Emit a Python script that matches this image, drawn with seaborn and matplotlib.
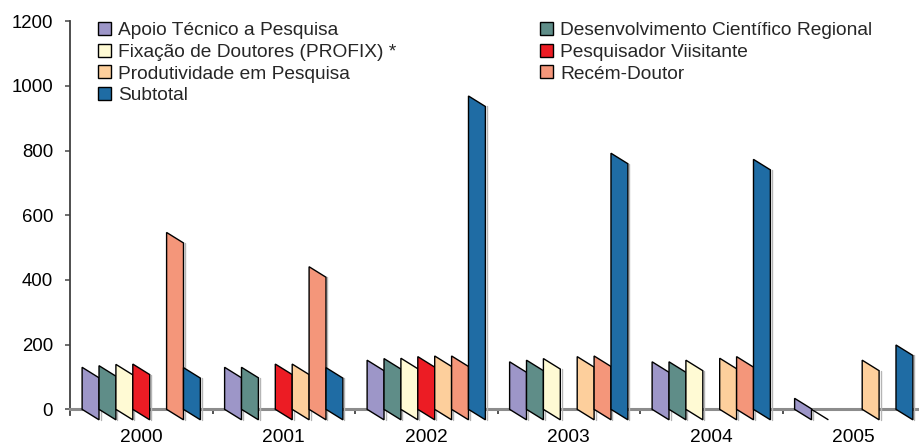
import numpy as np
import pandas as pd
import matplotlib
matplotlib.use('Agg')
import matplotlib.pyplot as plt
import seaborn as sns
from matplotlib.patches import Polygon, Patch

nan = np.nan

# dados
anos = ['2000', '2001', '2002', '2003', '2004', '2005']
programas = ['Apoio Técnico a Pesquisa', 'Desenvolvimento Científico Regional',
             'Fixação de Doutores (PROFIX) *', 'Pesquisador Viisitante',
             'Produtividade em Pesquisa', 'Recém-Doutor', 'Subtotal']
cores = ['#9d96c8', '#5f8d88', '#fffad4', '#ec1c24', '#fdcf9c', '#f4967a', '#1f6ca4']

apoio = [130, 130, 152, 147, 147, 34]
desenvolvimento = [135, 130, 157, 152, 147, 0]
fixacao = [139, nan, 158, 157, 152, nan]
pesquisador = [140, 140, 163, nan, nan, nan]
produtividade = [nan, 140, 165, 163, 158, 152]
recem_doutor = [547, 441, 165, 165, 163, nan]
subtotal = [129, 129, 969, 792, 773, 199]

valores = [apoio, desenvolvimento, fixacao, pesquisador, produtividade, recem_doutor, subtotal]
linhas = []
for prog, vals in zip(programas, valores):
    for ano, v in zip(anos, vals):
        linhas.append({'ano': ano, 'programa': prog, 'valor': v})
df = pd.DataFrame(linhas).dropna()

sns.set_theme(style='white')
plt.rcParams['font.family'] = ['Liberation Sans', 'DejaVu Sans']

W, H = 919, 445
fig = plt.figure(figsize=(W / 100, H / 100), dpi=100)
ax = fig.add_axes([70 / W, 19.5 / H, 855 / W, (423.7 - 19.5) / H])

sns.barplot(data=df, x='ano', y='valor', hue='programa', order=anos,
            hue_order=programas, palette=cores, saturation=1, width=0.83,
            errorbar=None, edgecolor='black', linewidth=1, legend=False, ax=ax)

ax.set_xlim(-0.5, 5.5)
ax.set_ylim(-50, 1200)

# efeito 3D: lado direito da barra desce ~10 px
px = ax.transData.transform([(0, 0), (1, 1)])
unid_y = 1 / (px[1, 1] - px[0, 1])
unid_x = 1 / (px[1, 0] - px[0, 0])
queda = 10.5 * unid_y
for barra in list(ax.patches):
    x0, w, h = barra.get_x(), barra.get_width(), barra.get_height()
    fc = barra.get_facecolor()
    barra.remove()
    if np.isnan(h):
        continue
    x1 = x0 + w
    ax.plot([x1 + 1.5 * unid_x] * 2, [h - queda, -queda], color='#b5b5b5', lw=1, zorder=2.9)
    ax.add_patch(Polygon([(x0, 0), (x0, h), (x1, h - queda), (x1, -queda)], closed=True,
                         facecolor=fc, edgecolor='black', linewidth=1, zorder=3))

ax.set_xlim(-0.5, 5.5)
ax.set_ylim(-50, 1200)

for s in ['top', 'right']:
    ax.spines[s].set_visible(False)
ax.spines['left'].set_bounds(-17, 1200)
ax.spines['left'].set_color('#404040')
ax.spines['left'].set_linewidth(1.3)
ax.spines['bottom'].set_position(('data', 0))
ax.spines['bottom'].set_color('#8c8c8c')
ax.spines['bottom'].set_linewidth(2.2)

ax.set_yticks(range(0, 1201, 200))
ax.tick_params(axis='y', length=3.6, width=1.2, color='#555555', labelsize=13.4,
               pad=8.6, left=True, labelcolor='black')
ax.set_xticks(range(len(anos)))
ax.set_xticklabels(anos)
ax.set_xticks([0.5, 1.5, 2.5, 3.5, 4.5], minor=True)
ax.tick_params(axis='x', which='major', length=0, pad=14.5, labelsize=13.8, labelcolor='black')
ax.tick_params(axis='x', which='minor', length=3.6, width=1.2, color='#333333',
               direction='out', bottom=True)
ax.set_xlabel('')
ax.set_ylabel('')

# legenda em duas colunas
def alca(i):
    return Patch(facecolor=cores[i], edgecolor='black', linewidth=1)

opts = dict(loc='upper left', frameon=False, fontsize=13.8, handlelength=0.68,
            handleheight=0.68, handletextpad=0.37, labelspacing=0.23,
            borderpad=0, borderaxespad=0, bbox_transform=fig.transFigure)
col1 = [0, 2, 4, 6]
col2 = [1, 3, 5]
topo = 1 - 21.8 / H
leg1 = ax.legend([alca(i) for i in col1], [programas[i] for i in col1],
                 bbox_to_anchor=(98 / W, topo), **opts)
ax.add_artist(leg1)
ax.legend([alca(i) for i in col2], [programas[i] for i in col2],
          bbox_to_anchor=(540 / W, topo), **opts)

fig.savefig('out.png', dpi=100)
